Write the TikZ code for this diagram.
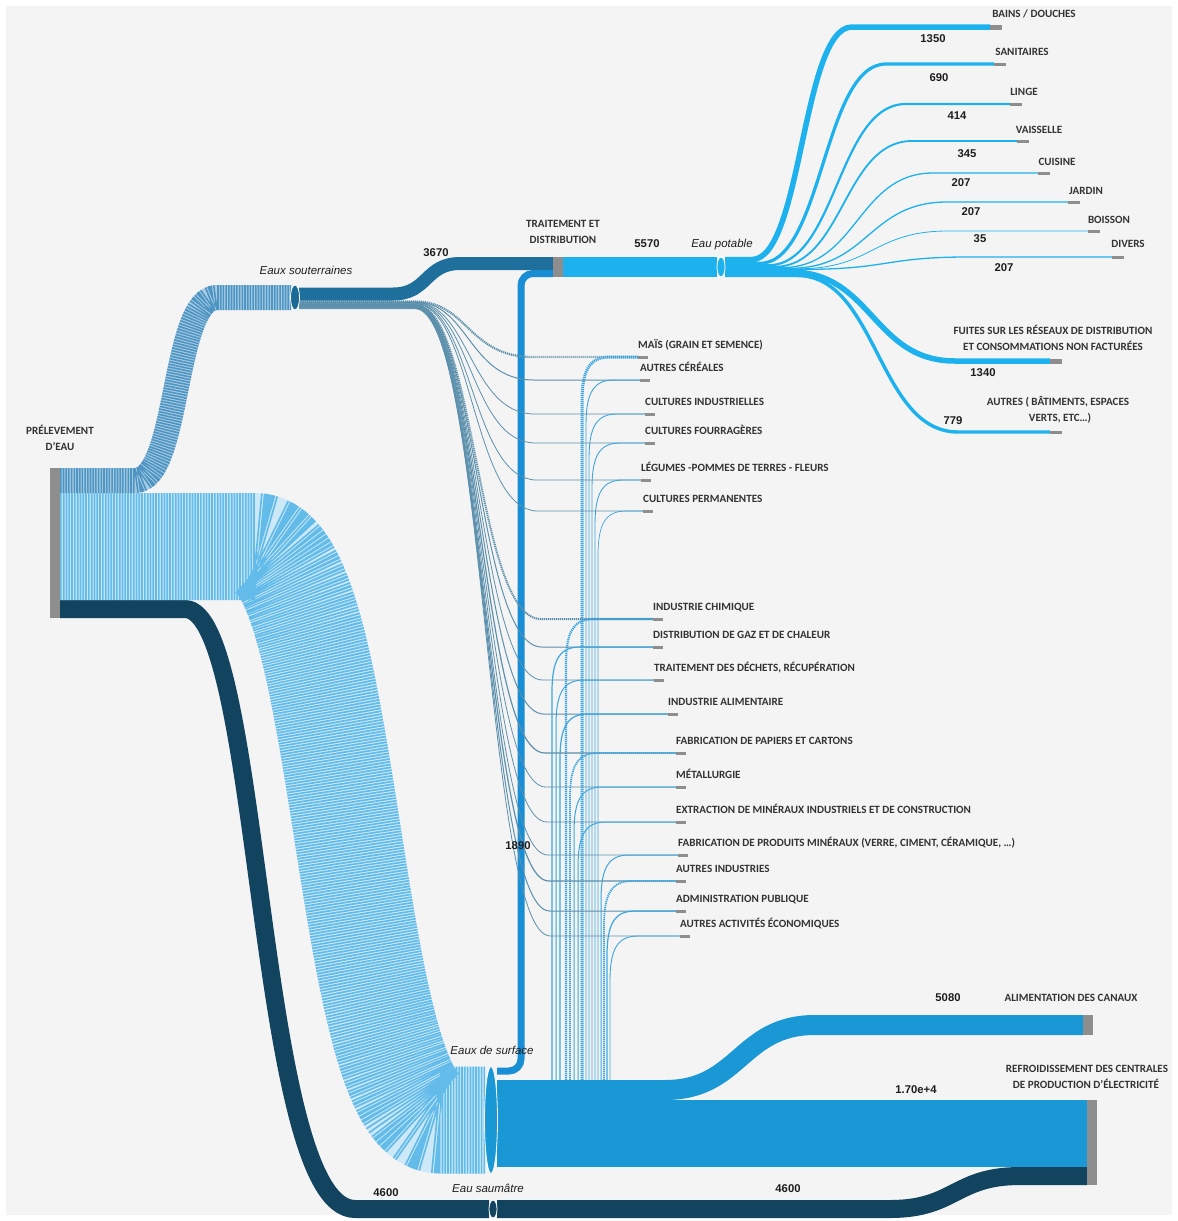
\documentclass[tikz,border=0pt]{standalone}
\usepackage{fontspec}
\setmainfont{Liberation Sans}
\newfontfamily\capfam{Carlito}
\usetikzlibrary{shapes.geometric}
\definecolor{bgc}{HTML}{F4F4F4}
\definecolor{gnode}{HTML}{8E8E8E}
\definecolor{ctext}{HTML}{333333}
\definecolor{cnum}{HTML}{1E1E1E}
\definecolor{sbaseA}{HTML}{A9CCE3}
\definecolor{sstrA}{HTML}{4E95C3}
\definecolor{sbaseB}{HTML}{CDE9F8}
\definecolor{sstrB}{HTML}{63BBE9}
\definecolor{cdark}{HTML}{12435F}
\definecolor{cteal}{HTML}{1F6F9C}
\definecolor{csoutn}{HTML}{1B6A96}
\definecolor{cmid}{HTML}{1A8ED4}
\definecolor{cpot}{HTML}{1DB1EE}
\definecolor{csurf}{HTML}{1A98D5}
\definecolor{slinkc}{HTML}{5C90AC}
\definecolor{flinkc}{HTML}{3DA6DF}
\pgfdeclarelayer{back}
\pgfdeclarelayer{lowb}
\pgfdeclarelayer{thin}
\pgfdeclarelayer{highb}
\pgfsetlayers{back,lowb,thin,highb,main}
\begin{document}
\begin{tikzpicture}[x=1pt,y=-1pt,
  gbar/.style={rectangle, fill=gnode, draw=none, inner sep=0pt, minimum width=10pt},
  ell/.style={ellipse, draw=white, line width=0.8pt, inner sep=0pt},
  band/.style={line cap=butt, line join=round},
  capb/.style={font=\capfam\bfseries\fontsize{11.1}{13}\selectfont, text=ctext, inner sep=0pt, anchor=base},
  numb/.style={font=\bfseries\fontsize{11.3}{13}\selectfont, text=cnum, inner sep=0pt, anchor=base},
  itl/.style={font=\itshape\fontsize{11.5}{13}\selectfont, text=cnum, inner sep=0pt, anchor=base},
  slink/.style={draw=slinkc, line cap=butt},
  flink/.style={draw=flinkc, line cap=butt},
  dlink/.style={draw=cpot, line cap=butt}]
\useasboundingbox (0,0) rectangle (1178,1221);
\begin{pgfonlayer}{back}
\fill[white] (0,0) rectangle (1178,1221);
\fill[bgc] (6,6) rectangle (1172,1215);
\end{pgfonlayer}

% ---------- main nodes ----------
\node[gbar, minimum height=150pt] (prel) at (55,543) {};
\node[ell, fill=csoutn, minimum width=9pt, minimum height=25pt] (sout) at (295,297.5) {};
\node[ell, fill=csurf, minimum width=13pt, minimum height=107pt] (surf) at (491,1120) {};
\node[ell, fill=cdark, minimum width=8pt, minimum height=18pt] (saum) at (493,1209) {};
\node[gbar, minimum height=20pt] (trait) at (558,267) {};
\node[ell, fill=cpot, minimum width=8pt, minimum height=20pt] (pot) at (721,267) {};
\node[gbar, minimum height=20pt] (canal) at (1088,1025) {};
\node[gbar, minimum height=85pt] (cool) at (1092,1142.5) {};

% ---------- link end points ----------
\coordinate (p1) at (60,480.5);
\coordinate (p2) at (60,546.5);
\coordinate (p3) at (60,609);
\coordinate (soin) at (291,297.5);
\coordinate (sfin) at (485,1120);
\coordinate (sain) at (489,1209);
\coordinate (soout) at (299,294);
\coordinate (trin1) at (553,263.5);
\coordinate (trin2) at (553,273.5);
\coordinate (sfo1) at (497,1071);
\coordinate (sfo3) at (497,1090);
\coordinate (sfo4) at (497,1133.5);
\coordinate (saout) at (497,1209);
\coordinate (cain) at (1083,1025);
\coordinate (coin1) at (1087,1133.5);
\coordinate (coin2) at (1087,1176);
\coordinate (trout) at (563,267);
\coordinate (poin) at (717,267);

% ---------- low bands ----------
\begin{pgfonlayer}{lowb}
\draw[band, line width=18pt, draw=cdark] (p3) -- (185,609) .. controls (262,609) and (256,1209) .. (355,1209) -- (sain);
\draw[band, line width=107pt, draw=sbaseB, postaction={draw=sstrB, dash pattern=on 1.7pt off 1.1pt}]
  (p2) -- (255,546.5) .. controls (350,546.5) and (345,1120) .. (440,1120) -- (sfin);
\draw[band, line width=25pt, draw=sbaseA, postaction={draw=sstrA, dash pattern=on 1.6pt off 1.1pt}]
  (p1) -- (135,480.5) .. controls (180,480.5) and (172,297.5) .. (217,297.5) -- (soin);
\draw[band, line width=7pt, draw=cmid, rounded corners=12pt] (sfo1) -- (521,1071) -- (521,273.5) -- (trin2);
\end{pgfonlayer}

% ---------- agriculture / industry targets and thin links ----------
\foreach \y/\bx/\sw/\fw/\sa/\sb/\fa/\fb/\xv/\txt [count=\i] in {
357/638/2.2/3/1.2/0.8/1.2/0.8/582/{MAÏS (GRAIN ET SEMENCE)},
380/640/1/0.9/999/0/999/0/586/{AUTRES CÉRÉALES},
414/645/0.8/0.9/999/0/999/0/589/{CULTURES INDUSTRIELLES},
443/645/0.8/0.9/999/0/999/0/592/{CULTURES FOURRAGÈRES},
480/641/0.8/0.9/999/0/999/0/595/{LÉGUMES -POMMES DE TERRES - FLEURS},
511/643/0.8/0.7/999/0/999/0/598/{CULTURES PERMANENTES},
619/653/2/2.2/1.2/0.8/1.2/0.8/566/{INDUSTRIE CHIMIQUE},
647/653/1/1.2/999/0/999/0/552/{DISTRIBUTION DE GAZ ET DE CHALEUR},
680/654/0.8/1/999/0/999/0/556/{TRAITEMENT DES DÉCHETS, RÉCUPÉRATION},
714/668/1/1.2/999/0/999/0/560/{INDUSTRIE ALIMENTAIRE},
753/676/1.2/1.8/999/0/1.2/0.8/570/{FABRICATION DE PAPIERS ET CARTONS},
787/676/0.8/1/999/0/999/0/574/{MÉTALLURGIE},
822/676/0.8/1/999/0/999/0/578/{EXTRACTION DE MINÉRAUX INDUSTRIELS ET DE CONSTRUCTION},
855/678/0.8/1/999/0/999/0/601/{FABRICATION DE PRODUITS MINÉRAUX (VERRE, CIMENT, CÉRAMIQUE, …)},
881/676/1.2/1.8/999/0/1.2/0.8/604/{AUTRES INDUSTRIES},
911/676/1/1.2/999/0/999/0/607/{ADMINISTRATION PUBLIQUE},
936/680/0.8/0.9/999/0/999/0/610/{AUTRES ACTIVITÉS ÉCONOMIQUES}}
{
  \pgfmathsetmacro\ys{301+0.45*\i}
  \pgfmathsetmacro\mx{468+0.03*(\y-357)}
  \pgfmathsetmacro\xe{\mx+65}
  \node[gbar, anchor=west, minimum height=3pt] (t\i) at (\bx,\y) {};
  \node[capb, anchor=base west] (l\i) at (\bx,\y-8.5) {\txt};
  \coordinate (so\i) at (299,\ys);
  \coordinate (sf\i) at (\xv,1086);
  \begin{pgfonlayer}{thin}
  \draw[slink, line width=\sw pt, dash pattern=on \sa pt off \sb pt]
    (so\i) -- (415,\ys) .. controls (\mx,\ys) and (\mx,\y) .. (\xe,\y) -- (t\i.west);
  \draw[flink, line width=\fw pt, dash pattern=on \fa pt off \fb pt]
    (sf\i) -- (\xv,\y+45) .. controls (\xv,\y+12) and (\xv+8,\y) .. (\xv+28,\y) -- (t\i.west);
  \end{pgfonlayer}
}

% ---------- high bands ----------
\begin{pgfonlayer}{highb}
\draw[band, line width=18pt, draw=cdark] (saout) -- (890,1209) .. controls (955,1209) and (955,1176) .. (1020,1176) -- (coin2);
\draw[band, line width=20pt, draw=csurf] (sfo3) -- (665,1090) .. controls (740,1090) and (740,1025) .. (815,1025) -- (cain);
\draw[band, line width=67pt, draw=csurf] (sfo4) -- (coin1);
\draw[band, line width=13pt, draw=cteal] (soout) -- (393,294) .. controls (428,294) and (425,263.5) .. (460,263.5) -- (trin1);
\draw[band, line width=20pt, draw=cpot] (trout) -- (poin);
\end{pgfonlayer}

% ---------- domestic uses ----------
\foreach \yo/\xs/\xe/\ye/\bx/\lw/\bh [count=\k] in {
259.5/752/852/27/990/5.5/5,
263.3/760/886/64/994/3.2/3,
265.3/768/906/104/1010/2.2/3,
266.7/775/912/141/1017/1.8/3,
267.6/782/933/173/1038/1.3/3,
268.3/790/947/202/1068/1.3/3,
268.8/798/948/231/1088/0.8/3,
269.3/806/967/257/1112/1.3/3,
271.9/790/955/361/1050/5.5/5,
275.5/797/958/432/1050/3.4/3}
{
  \pgfmathsetmacro\mm{(\xs+\xe)/2}
  \node[gbar, anchor=west, minimum width=12pt, minimum height=\bh pt] (d\k) at (\bx,\ye) {};
  \coordinate (do\k) at (725,\yo);
  \begin{pgfonlayer}{highb}
  \draw[dlink, line width=\lw pt] (do\k) -- (\xs,\yo) .. controls (\mm,\yo) and (\mm,\ye) .. (\xe,\ye) -- (d\k.west);
  \end{pgfonlayer}
}

% ---------- labels ----------
\node[capb] (lprel1) at (60,434) {PRÉLEVEMENT};
\node[capb] (lprel2) at (60,450) {D’EAU};
\node[itl] (lsout) at (306,274) {Eaux souterraines};
\node[numb] (n3670) at (436,256) {3670};
\node[capb] (ltr1) at (563,227) {TRAITEMENT ET};
\node[capb] (ltr2) at (563,243) {DISTRIBUTION};
\node[numb] (n5570) at (647,247) {5570};
\node[itl] (lpot) at (722,247) {Eau potable};

\node[capb] (lbain) at (1034,17) {BAINS / DOUCHES};
\node[numb] (nbain) at (933,42) {1350};
\node[capb] (lsani) at (1022,55) {SANITAIRES};
\node[numb] (nsani) at (939,81) {690};
\node[capb] (lling) at (1024,95) {LINGE};
\node[numb] (nling) at (957,119) {414};
\node[capb] (lvais) at (1039,133) {VAISSELLE};
\node[numb] (nvais) at (967,157) {345};
\node[capb] (lcuis) at (1057,165) {CUISINE};
\node[numb] (ncuis) at (961,186) {207};
\node[capb] (ljard) at (1086,194) {JARDIN};
\node[numb] (njard) at (971,215) {207};
\node[capb] (lbois) at (1109,223) {BOISSON};
\node[numb] (nbois) at (980,242) {35};
\node[capb] (ldive) at (1128,247) {DIVERS};
\node[numb] (ndive) at (1004,271) {207};
\node[capb] (lfuit1) at (1053,334) {FUITES SUR LES RÉSEAUX DE DISTRIBUTION};
\node[capb] (lfuit2) at (1053,350) {ET CONSOMMATIONS NON FACTURÉES};
\node[numb] (nfuit) at (983,376) {1340};
\node[capb] (lautr1) at (1058,405) {AUTRES ( BÂTIMENTS, ESPACES};
\node[capb] (lautr2) at (1060,421) {VERTS, ETC…)};
\node[numb] (nautr) at (953,424) {779};

\node[numb] (n1890) at (518,849) {1890};
\node[itl] (lsurf) at (492,1054) {Eaux de surface};
\node[numb] (n4600a) at (386,1196) {4600};
\node[itl] (lsaum) at (488,1192) {Eau saumâtre};
\node[numb] (n4600b) at (788,1192) {4600};
\node[numb] (n5080) at (948,1001) {5080};
\node[capb] (lcanal) at (1071,1001) {ALIMENTATION DES CANAUX};
\node[numb] (n17) at (916,1093) {1.70e+4};
\node[capb] (lcool1) at (1087,1072) {REFROIDISSEMENT DES CENTRALES};
\node[capb] (lcool2) at (1086,1088) {DE PRODUCTION D’ÉLECTRICITÉ};
\end{tikzpicture}
\end{document}
